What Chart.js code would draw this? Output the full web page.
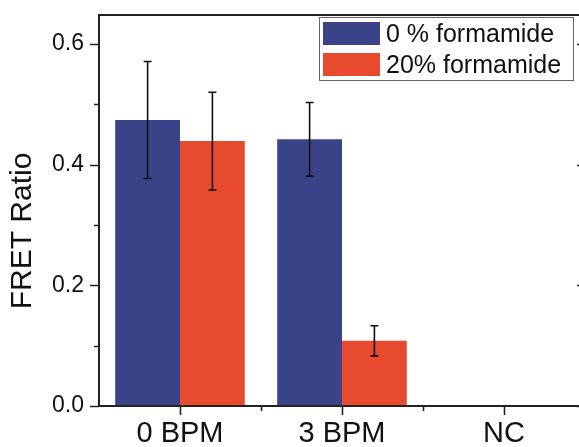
<!DOCTYPE html>
<html>
<head>
<meta charset="utf-8">
<script src="https://cdn.jsdelivr.net/npm/chart.js@4"></script>
<style>
  html, body { margin: 0; padding: 0; background: #fff; overflow: hidden; }
  #wrap { width: 600px; height: 447px; }
</style>
</head>
<body>
<div id="wrap"><canvas id="chart" width="600" height="447"></canvas></div>
<script>
const categories = ["0 BPM", "3 BPM", "NC"];
const seriesNames = ["0 % formamide", "20% formamide"];
const values0 = [0.474, 0.442, 0.0];
const errors0 = [0.097, 0.061, 0.0];
const values20 = [0.439, 0.108, 0.0];
const errors20 = [0.081, 0.025, 0.0];
const yTicks = [0, 0.2, 0.4, 0.6];
const yTitle = "FRET Ratio";

const BLUE = "#3a4388";
const RED = "#e84a2f";
const FONT = "'Liberation Sans', Arial, sans-serif";

// error bars, tick marks, frame, axis title and legend
const extras = {
  id: "extras",
  afterDatasetsDraw(chart) {
    const ctx = chart.ctx;
    const a = chart.chartArea;
    const x = chart.scales.x;
    const y = chart.scales.y;
    ctx.save();
    ctx.strokeStyle = "#111";
    ctx.lineWidth = 1.6;

    // error bars
    const errs = [errors0, errors20];
    chart.data.datasets.forEach((ds, di) => {
      const meta = chart.getDatasetMeta(di);
      meta.data.forEach((bar, i) => {
        const v = ds.data[i];
        const e = errs[di][i];
        const cx = bar.x;
        const top = y.getPixelForValue(v + e);
        const bot = y.getPixelForValue(v - e);
        ctx.beginPath();
        ctx.moveTo(cx, top); ctx.lineTo(cx, bot);
        ctx.moveTo(cx - 4, top); ctx.lineTo(cx + 4, top);
        ctx.moveTo(cx - 4, bot); ctx.lineTo(cx + 4, bot);
        ctx.stroke();
      });
    });

    // frame
    ctx.lineWidth = 2;
    ctx.strokeStyle = "#222";
    ctx.strokeRect(a.left, a.top, a.right - a.left, a.bottom - a.top);

    // y ticks outward on the left, inward on the right
    ctx.lineWidth = 1.6;
    ctx.beginPath();
    for (let k = 0; k <= 6; k++) {
      const v = k / 10;
      const py = Math.round(y.getPixelForValue(v)) + 0.5;
      const major = k % 2 === 0;
      ctx.moveTo(a.left - (major ? 9 : 5), py); ctx.lineTo(a.left, py);
      ctx.moveTo(a.right, py); ctx.lineTo(a.right - (major ? 8 : 5), py);
    }
    // x ticks
    for (let i = 0; i < categories.length; i++) {
      const px = Math.round(x.getPixelForValue(i)) + 0.5;
      ctx.moveTo(px, a.bottom); ctx.lineTo(px, a.bottom + 9);
      if (i < categories.length - 1) {
        const mx = Math.round(x.getPixelForValue(i + 0.5)) + 0.5;
        ctx.moveTo(mx, a.bottom); ctx.lineTo(mx, a.bottom + 5);
      }
    }
    ctx.stroke();

    // y axis title
    ctx.save();
    ctx.translate(23, 231);
    ctx.rotate(-Math.PI / 2);
    ctx.font = "30px " + FONT;
    ctx.fillStyle = "#111";
    ctx.textAlign = "center";
    ctx.textBaseline = "middle";
    ctx.fillText(yTitle, 0, 0);
    ctx.restore();

    // legend
    const lx = 319, ly = 17, lw = 254, lh = 63;
    ctx.fillStyle = "#fff";
    ctx.fillRect(lx, ly, lw, lh);
    ctx.lineWidth = 1;
    ctx.strokeStyle = "#666";
    ctx.strokeRect(lx + 0.5, ly + 0.5, lw, lh);
    const cols = [BLUE, RED];
    ctx.font = "25px " + FONT;
    ctx.textBaseline = "middle";
    seriesNames.forEach((name, i) => {
      const ry = ly + 5 + i * 31;
      ctx.fillStyle = cols[i];
      ctx.fillRect(lx + 4, ry, 57, 23);
      ctx.fillStyle = "#111";
      ctx.fillText(name, lx + 67, ry + 13);
    });
    ctx.restore();
  }
};

new Chart(document.getElementById("chart"), {
  type: "bar",
  data: {
    labels: categories,
    datasets: [
      { label: seriesNames[0], data: values0, backgroundColor: BLUE, borderWidth: 0,
        categoryPercentage: 0.8, barPercentage: 1.0 },
      { label: seriesNames[1], data: values20, backgroundColor: RED, borderWidth: 0,
        categoryPercentage: 0.8, barPercentage: 1.0 }
    ]
  },
  options: {
    responsive: false,
    animation: false,
    layout: { padding: { top: 15, right: 15, left: 0, bottom: 0 } },
    plugins: { legend: { display: false }, tooltip: { enabled: false } },
    scales: {
      x: {
        grid: { display: false },
        border: { display: false },
        ticks: { color: "#111", font: { family: FONT, size: 29 }, padding: 3, maxRotation: 0 },
        afterFit(s) {
          s.height = 41;
          s.paddingLeft = 0; s.paddingRight = 0;
        }
      },
      y: {
        min: 0, max: 0.648,
        grid: { display: false },
        border: { display: false },
        afterBuildTicks(s) { s.ticks = yTicks.map(v => ({ value: v })); },
        ticks: {
          color: "#111", font: { family: FONT, size: 23 }, padding: 7,
          callback: v => Number(v).toFixed(1)
        },
        afterFit(s) {
          s.width = 99;
          s.paddingTop = 0; s.paddingBottom = 0;
        }
      }
    }
  },
  plugins: [extras]
});
</script>
</body>
</html>
